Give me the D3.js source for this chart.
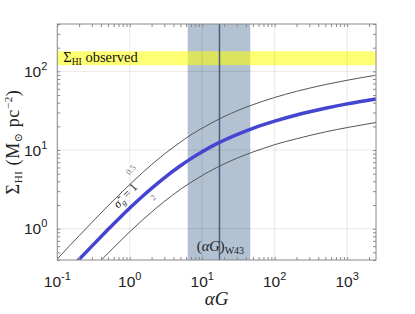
<!DOCTYPE html>
<html>
<head>
<meta charset="utf-8">
<script src="https://cdn.jsdelivr.net/npm/d3@7"></script>
<style>
  body { margin: 0; background: #fff; }
  .serif { font-family: "Liberation Serif", "DejaVu Serif", serif; }
  .tick-lab { font-family: "Liberation Sans", Arial, sans-serif; fill: #222; }
</style>
</head>
<body>
<div id="chart"></div>
<script>
// alpha*G sample points and Sigma_HI
var alphaG = [0.1, 0.15, 0.2, 0.3, 0.5, 0.7, 1, 1.5, 2, 3, 5, 7, 10, 15, 20, 30, 50, 70, 100, 200, 500, 1000, 2500];
var sigmaHalf = [0.413, 0.615, 0.814, 1.20, 1.95, 2.65, 3.65, 5.16, 6.52, 8.88, 12.6, 15.6, 19.0, 23.3, 26.6, 31.4, 37.7, 42.0, 46.6, 55.7, 67.9, 77.1, 89.4];
var sigmaOne = [0.207, 0.307, 0.407, 0.601, 0.974, 1.33, 1.83, 2.58, 3.26, 4.44, 6.31, 7.78, 9.51, 11.7, 13.3, 15.7, 18.9, 21.0, 23.3, 27.9, 33.9, 38.6, 44.7];
var sigmaTwo = [0.103, 0.154, 0.203, 0.301, 0.487, 0.664, 0.913, 1.29, 1.63, 2.22, 3.16, 3.89, 4.75, 5.83, 6.65, 7.85, 9.43, 10.5, 11.7, 13.9, 17.0, 19.3, 22.4];

// observed Sigma_HI range and W43 alpha*G range
var observedHI = [120, 180];
var w43Range = [6.3, 46];
var w43Value = 17.3;

var xTicks = [0.1, 1, 10, 100, 1000];
var xExps = ["-1", "0", "1", "2", "3"];
var yTicks = [1, 10, 100];
var yExps = ["0", "1", "2"];

// curve labels (position in data space)
var curveLabels = [
  {text: "0.5", x: 1.1, y: 5.3, size: 8.5, color: "#777"},
  {text: "σ̃", sub: "g", rest: " = 1", x: 0.95, y: 2.45, size: 12, color: "#111"},
  {text: "2", x: 2.25, y: 2.35, size: 8.5, color: "#777"}
];

var width = 415, height = 314;
var margin = {left: 57.3, right: 39, top: 24, bottom: 54};
var w = width - margin.left - margin.right;
var h = height - margin.top - margin.bottom;

var svg = d3.select("#chart").append("svg")
  .attr("width", width)
  .attr("height", height);

var x = d3.scaleLog().domain([0.1, 2500]).range([0, w]);
var y = d3.scaleLog().domain([0.4, 400]).range([h, 0]);

var g = svg.append("g").attr("transform", "translate(" + margin.left + "," + margin.top + ")");

g.append("clipPath").attr("id", "clip")
  .append("rect").attr("width", w).attr("height", h);

var plot = g.append("g").attr("clip-path", "url(#clip)");

// W43 band
plot.append("rect")
  .attr("x", x(w43Range[0]))
  .attr("width", x(w43Range[1]) - x(w43Range[0]))
  .attr("y", 0).attr("height", h)
  .attr("fill", "#b2c2d3");

// observed band
plot.append("rect")
  .attr("x", 0).attr("width", w)
  .attr("y", y(observedHI[1]))
  .attr("height", y(observedHI[0]) - y(observedHI[1]))
  .attr("fill", "#ffff00")
  .attr("fill-opacity", 0.55);

plot.append("line")
  .attr("x1", x(w43Value)).attr("x2", x(w43Value))
  .attr("y1", 0).attr("y2", h)
  .attr("stroke", "#4b6078")
  .attr("stroke-width", 1.5);

// grid at decades
g.append("g").selectAll("line").data(xTicks).enter().append("line")
  .attr("x1", function(d) { return x(d); }).attr("x2", function(d) { return x(d); })
  .attr("y1", 0).attr("y2", h)
  .attr("stroke", "#000").attr("stroke-opacity", 0.09);
g.append("g").selectAll("line").data(yTicks).enter().append("line")
  .attr("y1", function(d) { return y(d); }).attr("y2", function(d) { return y(d); })
  .attr("x1", 0).attr("x2", w)
  .attr("stroke", "#000").attr("stroke-opacity", 0.09);

// curves
var line = d3.line()
  .x(function(d) { return x(d[0]); })
  .y(function(d) { return y(d[1]); })
  .curve(d3.curveMonotoneX);

function pairs(vals) { return alphaG.map(function(a, i) { return [a, vals[i]]; }); }

plot.append("path").datum(pairs(sigmaHalf))
  .attr("d", line).attr("fill", "none").attr("stroke", "#555").attr("stroke-width", 1);
plot.append("path").datum(pairs(sigmaTwo))
  .attr("d", line).attr("fill", "none").attr("stroke", "#555").attr("stroke-width", 1);
plot.append("path").datum(pairs(sigmaOne))
  .attr("d", line).attr("fill", "none").attr("stroke", "#4545d2").attr("stroke-width", 3.5);

// ticks (inward, all four sides)
var minorX = [];
for (var e = -1; e <= 3; e++) for (var m = 1; m <= 9; m++) { var v = m * Math.pow(10, e); if (v <= 2500) minorX.push(v); }
var minorY = [];
for (var e2 = -1; e2 <= 2; e2++) for (var m2 = 1; m2 <= 9; m2++) { var v2 = m2 * Math.pow(10, e2); if (v2 >= 0.4 && v2 <= 400) minorY.push(v2); }

function styleAxis(sel) {
  sel.select(".domain").remove();
  sel.selectAll("line").attr("stroke", "#8a8a8a");
}
g.append("g").attr("transform", "translate(0," + h + ")")
  .call(d3.axisBottom(x).tickValues(minorX).tickSize(-3).tickFormat("")).call(styleAxis);
g.append("g")
  .call(d3.axisTop(x).tickValues(minorX).tickSize(-3).tickFormat("")).call(styleAxis);
g.append("g")
  .call(d3.axisLeft(y).tickValues(minorY).tickSize(-3).tickFormat("")).call(styleAxis);
g.append("g").attr("transform", "translate(" + w + ",0)")
  .call(d3.axisRight(y).tickValues(minorY).tickSize(-3).tickFormat("")).call(styleAxis);

g.append("rect").attr("width", w).attr("height", h)
  .attr("fill", "none").attr("stroke", "#8a8a8a").attr("stroke-width", 1);

// tick labels
var xl = g.append("g").selectAll("text").data(xTicks).enter().append("text")
  .attr("class", "tick-lab")
  .attr("x", function(d) { return x(d); })
  .attr("y", h + 27)
  .attr("text-anchor", "middle")
  .style("font-size", "15.5px");
xl.append("tspan").text("10");
xl.append("tspan").attr("dy", -7).style("font-size", "11px").text(function(d, i) { return xExps[i]; });

var yl = g.append("g").selectAll("text").data(yTicks).enter().append("text")
  .attr("class", "tick-lab")
  .attr("x", -10)
  .attr("y", function(d) { return y(d) + 5.5; })
  .attr("text-anchor", "end")
  .style("font-size", "15.5px");
yl.append("tspan").text("10");
yl.append("tspan").attr("dy", -7).style("font-size", "11px").text(function(d, i) { return yExps[i]; });

// in-plot labels
var obs = g.append("text").attr("class", "serif")
  .attr("x", 6).attr("y", y(observedHI[0]) - 3.5)
  .style("font-size", "14.5px").attr("fill", "#111");
obs.append("tspan").text("Σ");
obs.append("tspan").attr("dy", 3).style("font-size", "9.5px").text("HI");
obs.append("tspan").attr("dy", -3).text(" observed");

var w43 = g.append("text").attr("class", "serif")
  .attr("x", x(w43Value) + 1).attr("y", h - 9)
  .attr("text-anchor", "middle")
  .style("font-size", "14.5px").attr("fill", "#222");
w43.append("tspan").text("(");
w43.append("tspan").style("font-style", "italic").text("αG");
w43.append("tspan").text(")");
w43.append("tspan").attr("dy", 3).style("font-size", "10px").text("W43");

curveLabels.forEach(function(c) {
  var t = g.append("text").attr("class", "serif")
    .attr("transform", "translate(" + x(c.x) + "," + y(c.y) + ") rotate(-47)")
    .attr("text-anchor", "middle")
    .style("font-size", c.size + "px").attr("fill", c.color);
  t.append("tspan").style("font-style", c.sub ? "italic" : "normal").text(c.text);
  if (c.sub) {
    t.append("tspan").attr("dy", 2.5).style("font-size", (c.size * 0.7) + "px").style("font-style", "italic").text(c.sub);
    t.append("tspan").attr("dy", -2.5).text(c.rest);
  }
});

// axis titles
svg.append("text").attr("class", "serif")
  .attr("x", margin.left + w / 2).attr("y", 305)
  .attr("text-anchor", "middle")
  .style("font-size", "19px").style("font-style", "italic").attr("fill", "#222")
  .text("αG");

var yt = svg.append("text").attr("class", "serif")
  .attr("transform", "translate(19," + (margin.top + h / 2) + ") rotate(-90)")
  .attr("text-anchor", "middle")
  .style("font-size", "18px").style("letter-spacing", "0.6px").attr("fill", "#222");
yt.append("tspan").text("Σ");
yt.append("tspan").attr("dy", 3).style("font-size", "11px").text("HI");
yt.append("tspan").attr("dy", -3).text(" (M");
yt.append("tspan").attr("dy", 3).style("font-size", "11px").text("⊙");
yt.append("tspan").attr("dy", -3).text(" pc");
yt.append("tspan").attr("dy", -7).style("font-size", "11px").text("−2");
yt.append("tspan").attr("dy", 7).text(")");
</script>
</body>
</html>
